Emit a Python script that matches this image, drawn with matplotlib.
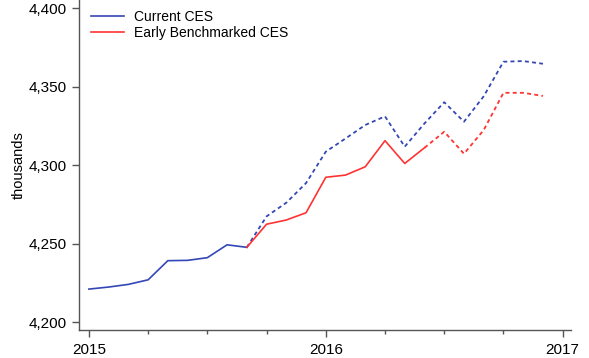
import numpy as np
import matplotlib
matplotlib.use('Agg')
from matplotlib import pyplot as plt
from matplotlib.ticker import FuncFormatter, MultipleLocator

plt.rcParams['font.family'] = ['Liberation Sans', 'DejaVu Sans']

# monthly observations, Jan 2015 - Dec 2016 (thousands)
months = ['2015-01', '2015-02', '2015-03', '2015-04', '2015-05', '2015-06',
          '2015-07', '2015-08', '2015-09', '2015-10', '2015-11', '2015-12',
          '2016-01', '2016-02', '2016-03', '2016-04', '2016-05', '2016-06',
          '2016-07', '2016-08', '2016-09', '2016-10', '2016-11', '2016-12']
current_ces = [4221.0, 4222.3, 4224.0, 4226.9, 4239.1, 4239.3, 4241.0, 4249.2,
               4247.6, 4267.3, 4276.0, 4288.5, 4308.5, 4316.9, 4325.5, 4331.0,
               4311.7, 4326.5, 4340.0, 4327.6, 4343.8, 4365.8, 4366.2, 4364.5]
early_bench = [np.nan] * 8 + [4247.6, 4262.3, 4265.0, 4269.6, 4292.2, 4293.6,
                              4298.9, 4315.5, 4301.0, 4311.0, 4321.2, 4307.2,
                              4322.3, 4346.0, 4346.0, 4344.0]

# index where each series switches from solid to dashed
blue_split = 8   # Sep 2015
red_split = 17   # Jun 2016

blue = '#3347B5'
red = '#FF3333'

x = np.array([int(m[:4]) + (int(m[5:]) - 1) / 12 for m in months])
cur = np.array(current_ces)
early = np.array(early_bench)

fig = plt.figure(figsize=(5.89, 3.58), dpi=100)
ax = fig.add_axes([0.134, 0.078, 0.835, 0.922])

ax.plot(x[:blue_split + 1], cur[:blue_split + 1], color=blue, lw=1.2,
        label='Current CES')
ax.plot(x[blue_split:], cur[blue_split:], color=blue, lw=1.3,
        ls=(0, (2.2, 1.8)))
ax.plot(x[:red_split + 1], early[:red_split + 1], color=red, lw=1.2,
        label='Early Benchmarked CES')
ax.plot(x[red_split:], early[red_split:], color=red, lw=1.3,
        ls=(0, (2.2, 1.8)))

ax.set_xlim(2014.958, 2017.034)
ax.set_ylim(4194.9, 4405.1)
ax.xaxis.set_major_locator(MultipleLocator(1))
ax.xaxis.set_minor_locator(MultipleLocator(0.25))
ax.xaxis.set_major_formatter(FuncFormatter(lambda v, p: '%d' % round(v)))
ax.yaxis.set_major_locator(MultipleLocator(50))
ax.yaxis.set_major_formatter(FuncFormatter(lambda v, p: '{:,.0f}'.format(v)))

for s in ['top', 'right']:
    ax.spines[s].set_visible(False)
for s in ['left', 'bottom']:
    ax.spines[s].set_color('#555555')
    ax.spines[s].set_linewidth(1.0)
ax.tick_params(axis='both', which='major', length=5, width=1.0,
               color='#555555', labelsize=11, pad=4)
ax.tick_params(axis='x', which='minor', length=3, width=1.0, color='#555555')
ax.set_ylabel('thousands', fontsize=10.5, labelpad=2)

ax.legend(loc='upper left', frameon=False, fontsize=10, handlelength=2.4,
          handletextpad=0.7, labelspacing=0.15, borderaxespad=0.3,
          bbox_to_anchor=(0.005, 1.0))

fig.savefig('out.png', dpi=100)
